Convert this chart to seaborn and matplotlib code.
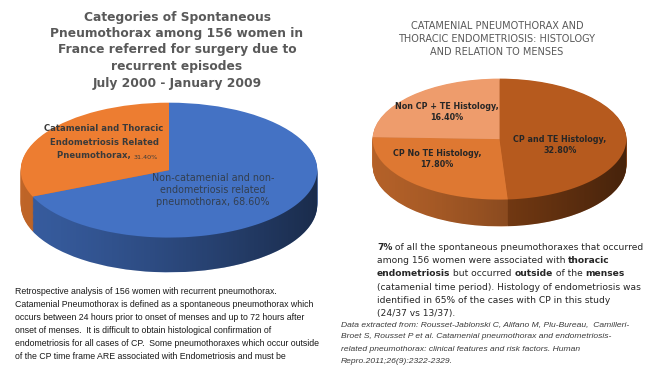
import numpy as np
import matplotlib
matplotlib.use("Agg")
import matplotlib.pyplot as plt
import seaborn as sns
from matplotlib.colors import to_rgb
from matplotlib.path import Path
from matplotlib.patches import PathPatch

# left pie: all 156 women
left_labels = ["Non-catamenial and non-\nendometriosis related\npneumothorax",
               "Catamenial and Thoracic\nEndometriosis Related\nPneumothorax"]
left_values = [68.6, 31.4]
left_colors = ["#4472C4", "#ED7D31"]

# right pie: histology vs menses
right_labels = ["CP and TE Histology", "CP No TE Histology", "Non CP + TE Histology"]
right_values = [32.8, 17.8, 16.4]
right_colors = ["#B65A1E", "#DE7832", "#EE9C6C"]

sns.set_theme(style="white")
plt.rcParams['font.family'] = ['DejaVu Sans']

W, H = 657, 369
fig = plt.figure(figsize=(W / 100, H / 100), dpi=100)
fig.patch.set_facecolor("white")


def px_axes(x0, y0, x1, y1):
    return fig.add_axes([x0 / W, 1 - y1 / H, (x1 - x0) / W, (y1 - y0) / H])


def pie3d(ax, values, colors, depth, layers=40):
    side = [tuple(c * 0.85 for c in to_rgb(col)) for col in colors]
    for k in range(layers, 0, -1):
        ax.pie(values, colors=side, startangle=90, counterclock=False,
               center=(0, -depth * k / layers), wedgeprops=dict(linewidth=0))
    ax.pie(values, colors=colors, startangle=90, counterclock=False,
           wedgeprops=dict(linewidth=0))
    # shading on the rim, darker to the right
    t = np.linspace(np.pi, 2 * np.pi, 200)
    verts = np.concatenate([np.c_[np.cos(t), np.sin(t) - depth],
                            np.c_[np.cos(t[::-1]), np.sin(t[::-1])]])
    verts = np.vstack([verts, verts[:1]])
    clip = PathPatch(Path(verts, closed=True), transform=ax.transData,
                     facecolor="none", edgecolor="none")
    ax.add_patch(clip)
    g = np.linspace(0, 1, 256)
    rgba = np.zeros((1, 256, 4))
    rgba[..., 3] = 0.05 + 0.5 * g ** 1.3
    im = ax.imshow(rgba, extent=(-1, 1, -1 - depth, 0), aspect="auto", zorder=3)
    im.set_clip_path(clip)
    ax.set_aspect("auto")
    ax.set_xlim(-1.005, 1.005)
    ax.set_ylim(-1 - depth - 0.01, 1.01)
    ax.axis("off")


ax1 = px_axes(20, 102, 318, 273)
pie3d(ax1, left_values, left_colors, 35 / 68)

ax2 = px_axes(372, 78, 627, 227)
pie3d(ax2, right_values, right_colors, 27 / 61)

# text layer in pixel coordinates
ax = fig.add_axes([0, 0, 1, 1], zorder=10)
ax.set_xlim(0, W)
ax.set_ylim(H, 0)
ax.axis("off")
ax.patch.set_alpha(0)


def rich(x, y, parts, size, color, family="DejaVu Sans", style="normal"):
    t = ax.text(x, y, parts[0][0], fontsize=size, color=color, family=family,
                fontweight=parts[0][1], style=style, va="baseline")
    for txt, wt, *fs in parts[1:]:
        t = ax.annotate(txt, xy=(1, 0), xycoords=t, va="bottom",
                        fontsize=fs[0] if fs else size, color=color, family=family,
                        fontweight=wt, style=style)


ax.text(177, 50, "Categories of Spontaneous\nPneumothorax among 156 women in\n"
        "France referred for surgery due to\nrecurrent episodes\nJuly 2000 - January 2009",
        ha="center", va="center", fontsize=8.8, fontweight="bold", color="#595959",
        linespacing=1.35)

ax.text(497, 39, "CATAMENIAL PNEUMOTHORAX AND\nTHORACIC ENDOMETRIOSIS: HISTOLOGY\n"
        "AND RELATION TO MENSES", ha="center", va="center", fontsize=7.0,
        color="#595959", linespacing=1.35)

# left pie labels
lab = left_labels[1].split("\n")
ax.text(104, 131, lab[0], ha="center", va="baseline", fontsize=6.1,
        fontweight="bold", color="#3A3A3A")
ax.text(104, 145, lab[1], ha="center", va="baseline", fontsize=6.1,
        fontweight="bold", color="#3A3A3A")
rich(57, 158, [(lab[2] + ", ", "bold"), (f"{left_values[1]:.2f}%", "normal", 4.6)],
     6.1, "#3A3A3A")
ax.text(213, 190, f"{left_labels[0]}, {left_values[0]:.2f}%", ha="center", va="center",
        fontsize=6.9, color="#333F50", linespacing=1.3)

# right pie labels
ax.text(447, 112, f"{right_labels[2]},\n{right_values[2]:.2f}%", ha="center", va="center",
        fontsize=5.8, fontweight="bold", color="#262626", linespacing=1.3)
ax.text(437, 159, f"{right_labels[1]},\n{right_values[1]:.2f}%", ha="center", va="center",
        fontsize=5.8, fontweight="bold", color="#262626", linespacing=1.3)
ax.text(560, 145, f"{right_labels[0]},\n{right_values[0]:.2f}%", ha="center", va="center",
        fontsize=5.8, fontweight="bold", color="#262626", linespacing=1.3)

# left paragraph
para_l = ["Retrospective analysis of 156 women with recurrent pneumothorax.",
          "Catamenial Pneumothorax is defined as a spontaneous pneumothorax which",
          "occurs between 24 hours prior to onset of menses and up to 72 hours after",
          "onset of menses.  It is difficult to obtain histological confirmation of",
          "endometriosis for all cases of CP.  Some pneumothoraxes which occur outside",
          "of the CP time frame ARE associated with Endometriosis and must be"]
for i, line in enumerate(para_l):
    ax.text(15, 294 + i * 13.0, line, fontsize=6.3, color="#1A1A1A",
            family="Liberation Sans", va="baseline")

# right paragraph
para_r = [[("7%", "bold"), (" of all the spontaneous pneumothoraxes that occurred", "normal")],
          [("among 156 women were associated with ", "normal"), ("thoracic", "bold")],
          [("endometriosis", "bold"), (" but occurred ", "normal"), ("outside", "bold"),
           (" of the ", "normal"), ("menses", "bold")],
          [("(catamenial time period). Histology of endometriosis was", "normal")],
          [("identified in 65% of the cases with CP in this study", "normal")],
          [("(24/37 vs 13/37).", "normal")]]
for i, parts in enumerate(para_r):
    rich(377, 250 + i * 13.2, parts, 6.6, "#262626")

cite = ["Data extracted from: Rousset-Jablonski C, Alifano M, Plu-Bureau,  Camilleri-",
        "Broet S, Rousset P et al. Catamenial pneumothorax and endometriosis-",
        "related pneumothorax: clinical features and risk factors. Human",
        "Repro.2011;26(9):2322-2329."]
for i, line in enumerate(cite):
    ax.text(341, 326 + i * 12.3, line, fontsize=6.1, style="italic", color="#3A3A3A",
            family="Liberation Sans", va="baseline")

fig.savefig("out.png", dpi=100, facecolor="white")
